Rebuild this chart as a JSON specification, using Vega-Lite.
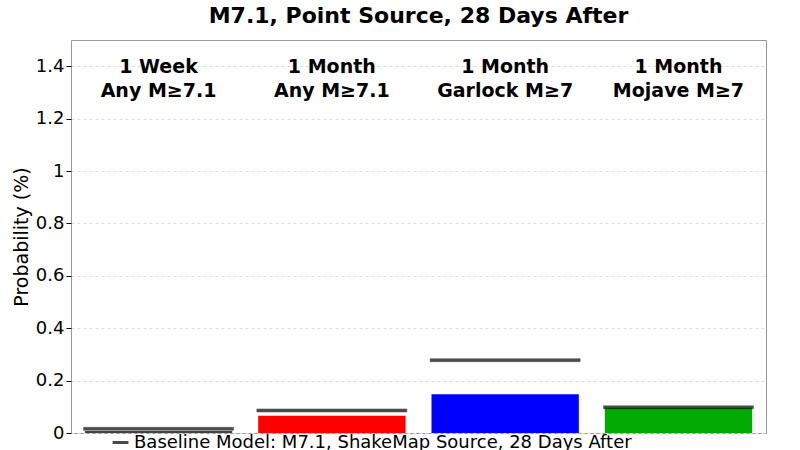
{
  "$schema": "https://vega.github.io/schema/vega-lite/v6.json",
  "autosize": {"type": "fit", "contains": "padding"},
  "width": 800,
  "height": 450,
  "padding": {"left": 12, "right": 34, "top": 5, "bottom": 8},
  "title": {"text": "M7.1, Point Source, 28 Days After", "fontSize": 22, "font": "DejaVu Sans", "fontWeight": "bold", "color": "#000", "offset": 12},
  "config": {
    "font": "DejaVu Sans",
    "view": {"stroke": "#999"},
    "axis": {"labelFont": "DejaVu Sans", "titleFont": "DejaVu Sans"}
  },
  "data": {
    "values": [
      {"cat": "a", "label": "1 Week\nAny M≥7.1", "prob": 0.008, "baseline": 0.016, "color": "#444444"},
      {"cat": "b", "label": "1 Month\nAny M≥7.1", "prob": 0.066, "baseline": 0.086, "color": "#ff0000"},
      {"cat": "c", "label": "1 Month\nGarlock M≥7", "prob": 0.148, "baseline": 0.278, "color": "#0000ff"},
      {"cat": "d", "label": "1 Month\nMojave M≥7", "prob": 0.096, "baseline": 0.098, "color": "#00aa00"}
    ]
  },
  "encoding": {
    "x": {"field": "cat", "type": "nominal", "axis": null,
      "scale": {"paddingInner": 0.15, "paddingOuter": 0.08}}
  },
  "layer": [
    {
      "mark": {"type": "bar"},
      "encoding": {
        "y": {"field": "prob", "type": "quantitative",
          "scale": {"domain": [0, 1.5], "nice": false},
          "axis": {"title": "Probability (%)", "titleFontSize": 19, "titleFontWeight": "normal", "titleColor": "#000",
            "labelFontSize": 18, "labelColor": "#000", "format": "~g", "values": [0, 0.2, 0.4, 0.6, 0.8, 1, 1.2, 1.4],
            "gridDash": [3, 3], "gridColor": "#ddd", "domain": false, "tickColor": "#000", "tickSize": 5}},
        "fill": {"field": "color", "type": "nominal", "scale": null, "legend": null}
      }
    },
    {
      "mark": {"type": "tick", "thickness": 3, "size": 150, "fill": "#000", "stroke": "#000", "strokeWidth": 0.5},
      "encoding": {
        "y": {"field": "baseline", "type": "quantitative"},
        "stroke": {"datum": "Baseline Model: M7.1, ShakeMap Source, 28 Days After",
          "scale": {"range": ["#000000"]},
          "legend": {"title": null, "orient": "none", "legendX": 40, "legendY": 393, "symbolType": "stroke", "symbolStrokeWidth": 3, "symbolSize": 250,
            "labelFontSize": 18, "labelColor": "#000", "labelLimit": 800, "padding": 0}}
      }
    },
    {
      "mark": {"type": "text", "baseline": "top", "fontSize": 19, "fontWeight": "bold", "lineBreak": "\n", "lineHeight": 24, "color": "#000"},
      "encoding": {
        "y": {"datum": 1.43},
        "text": {"field": "label"}
      }
    }
  ]
}
